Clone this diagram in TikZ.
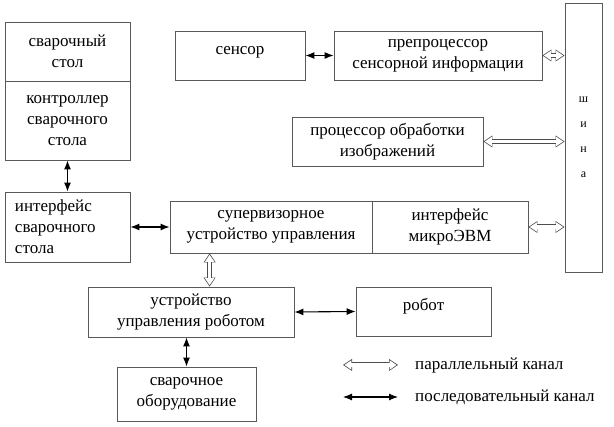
\documentclass[tikz,border=0pt]{standalone}
\usepackage{fontspec}
\newfontfamily\cyrfont{Liberation Serif}
\usetikzlibrary{arrows.meta,calc}
\tikzset{
  blk/.style 2 args={draw=black!65, line width=0.8pt, minimum width=#1, minimum height=#2, inner sep=2pt, align=center},
  topped/.style={text height=12pt, text depth=14pt},
  serial/.style={black, line width=1.1pt, {Latex[length=9pt,width=7pt]}-{Latex[length=9pt,width=7pt]}},
  parallel/.style={draw=black!70, line width=5pt, {Triangle[length=9pt,width=12pt,line width=0pt]}-{Triangle[length=9pt,width=12pt,line width=0pt]},
    postaction={draw=white, line width=3.4pt, {Triangle[length=7pt,width=9.4pt,line width=0pt]}-{Triangle[length=7pt,width=9.4pt,line width=0pt]}, shorten <=1.4pt, shorten >=1.4pt}},
  legtext/.style={anchor=west, inner sep=0pt}
}
\begin{document}
\begin{tikzpicture}[x=1pt,y=-1pt, font=\cyrfont\fontsize{17}{21}\selectfont]
        \useasboundingbox (0,0) rectangle (614,427);
        % left column
        \node[blk={125}{59}] (tbl) at (67.5,51.5) {сварочный\\стол};
        \node[blk={125}{79}] (ctl) at (67.5,120.5) {контроллер\\сварочного\\стола};
        \node[blk={125}{70}, text width=105pt, align=left] (wif) at (67.5,227) {интерфейс\\сварочного\\стола};

        % row1
        \node[blk={130}{49}, topped] (sens) at (240,55.5) {сенсор};
        \node[blk={208}{49}] (pre) at (438,55.5) {препроцессор\\сенсорной информации};
        % row2
        \node[blk={191}{49}] (proc) at (387.5,141.5) {процессор обработки\\изображений};
        % row3
        \node[blk={202}{52}] (sup) at (271,227) {супервизорное\\устройство управления};
        \node[blk={156}{52}] (mcu) at (450,227) {интерфейс\\микроЭВМ};
        % row4
        \node[blk={206}{50}] (rc) at (191,312) {устройство\\управления роботом};
        \node[blk={135}{49}, topped] (rob) at (423.5,311.5) {робот};
        % row5
        \node[blk={139}{54}] (weq) at (186.5,394) {сварочное\\оборудование};

        % bus
        \node[blk={37}{269}, font=\cyrfont\fontsize{12}{25}\selectfont] (bus) at (583.5,137.5) {ш\\и\\н\\а};

        % serial links
        \draw[serial] (ctl.south) -- (wif.north);
        \draw[serial] (sens.east) -- (pre.west);
        \draw[serial] (wif.east) -- (sup.west);
        \draw[serial] (rc.east) -- (rob.west);
        \draw[serial] (weq.north) -- (weq.north |- rc.south);

        % parallel links
        \coordinate (sv) at ($(sup.south west)+(40,0)$);
        \draw[parallel] (pre.east) -- (pre.east -| bus.west);
        \draw[parallel] (proc.east) -- (proc.east -| bus.west);
        \draw[parallel] (mcu.east) -- (mcu.east -| bus.west);
        \draw[parallel] (sv) -- (sv |- rc.north);

        % legend
        \coordinate (p1) at (343,365);
        \coordinate (p2) at (398,365);
        \coordinate (s1) at (343,397);
        \coordinate (s2) at (398,397);
        \draw[parallel] (p1) -- (p2);
        \draw[serial] (s1) -- (s2);
        \node[legtext] (ptext) at (415,365) {параллельный канал};
        \node[legtext] (stext) at (415,397) {последовательный канал};
    \end{tikzpicture}
\end{document}
